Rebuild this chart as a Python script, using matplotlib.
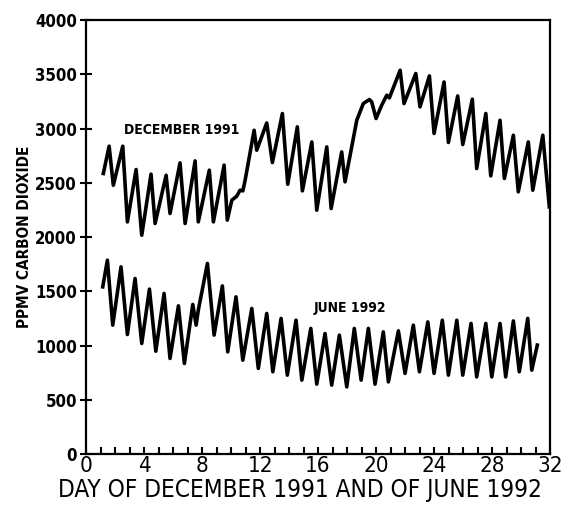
import matplotlib
matplotlib.use('Agg')
import matplotlib.pyplot as plt
from matplotlib.ticker import MultipleLocator

# December 1991: day of month (peaks/troughs), ppmv CO2
dec_day = [1.19, 1.59, 1.88, 2.53, 2.85, 3.45, 3.84, 4.48, 4.76, 5.52, 5.79,
           6.48, 6.83, 7.52, 7.74, 8.50, 8.78, 9.52, 9.74, 10.05, 10.39, 10.62,
           10.81, 10.97, 11.59, 11.77, 12.46, 12.85, 13.54, 13.91, 14.57, 14.92,
           15.57, 15.91, 16.60, 16.90, 17.63, 17.86, 18.67, 19.12, 19.54, 19.70,
           20.00, 20.39, 20.74, 20.92, 21.08, 21.66, 21.93, 22.74, 23.03, 23.68,
           24.00, 24.69, 24.99, 25.63, 25.98, 26.64, 26.94, 27.57, 27.91, 28.55,
           28.85, 29.47, 29.81, 30.50, 30.81, 31.50, 31.95]
dec_ppm = [2587, 2839, 2479, 2839, 2141, 2624, 2018, 2581, 2126, 2571, 2218,
           2685, 2126, 2703, 2141, 2618, 2141, 2664, 2157, 2341, 2378, 2433,
           2427, 2525, 2986, 2802, 3053, 2688, 3140, 2488, 3017, 2427,
           2878, 2249, 2832, 2264, 2786, 2510, 3078, 3232, 3269, 3247,
           3094, 3217, 3309, 3284, 3339, 3539, 3232, 3509, 3201, 3487,
           2956, 3431, 2873, 3302, 2854, 3272, 2633, 3140, 2565, 3078,
           2541, 2940, 2418, 2878, 2433, 2940, 2279]

# June 1992
jun_day = [1.15, 1.47, 1.84, 2.41, 2.85, 3.38, 3.84, 4.37, 4.81, 5.38, 5.79,
           6.37, 6.78, 7.36, 7.59, 7.74, 8.37, 8.83, 9.40, 9.77, 10.34, 10.81,
           11.43, 11.88, 12.46, 12.88, 13.45, 13.88, 14.48, 14.88, 15.50, 15.91,
           16.48, 16.94, 17.47, 17.98, 18.50, 18.97, 19.47, 19.93, 20.50, 20.85,
           21.54, 22.00, 22.57, 22.99, 23.57, 24.00, 24.57, 24.99, 25.57, 25.98,
           26.55, 26.94, 27.57, 27.98, 28.55, 28.94, 29.47, 29.88, 30.46, 30.74,
           31.12]
jun_ppm = [1542, 1788, 1189, 1726, 1103, 1619, 1020, 1521, 949, 1481, 882,
           1367, 836, 1380, 1189, 1327, 1758, 1097, 1551, 943, 1450, 866,
           1343, 790, 1297, 759, 1251, 728, 1235, 682, 1159, 645,
           1112, 636, 1097, 620, 1159, 682, 1159, 645, 1127, 666,
           1136, 744, 1189, 759, 1219, 744, 1235, 728, 1235, 728,
           1205, 712, 1205, 712, 1205, 712, 1228, 759, 1251, 774,
           1005]

FONT = dict(family='DejaVu Sans', stretch='condensed')

fig = plt.figure(figsize=(5.70, 5.19), dpi=100)
ax = fig.add_axes([0.151, 0.125, 0.814, 0.836])

ax.plot(dec_day, dec_ppm, color='black', lw=2.6, solid_joinstyle='round')
ax.plot(jun_day, jun_ppm, color='black', lw=2.6, solid_joinstyle='round')

ax.text(6.6, 2986, 'DECEMBER 1991', weight='bold', fontsize=10,
        ha='center', va='center', **FONT)
ax.text(18.2, 1345, 'JUNE 1992', weight='bold', fontsize=10,
        ha='center', va='center', **FONT)

ax.set_xlim(0, 32)
ax.set_ylim(0, 4000)
ax.xaxis.set_major_locator(MultipleLocator(4))
ax.xaxis.set_minor_locator(MultipleLocator(1))
ax.yaxis.set_major_locator(MultipleLocator(500))

ax.tick_params(axis='x', which='both', direction='in', length=5, width=1.5,
               pad=1)
ax.tick_params(axis='y', direction='inout', length=9, width=1.5, pad=2)
for lab in ax.get_xticklabels():
    lab.set(fontsize=16, **FONT)
for lab in ax.get_yticklabels():
    lab.set(fontsize=12, weight='bold', **FONT)

for s in ax.spines.values():
    s.set_linewidth(1.6)

ax.set_xlabel('DAY OF DECEMBER 1991 AND OF JUNE 1992', fontsize=17.5,
              labelpad=0, **FONT)
ax.xaxis.set_label_coords(0.46, -0.055)
ax.set_ylabel('PPMV CARBON DIOXIDE', fontsize=11, weight='bold',
              labelpad=2, **FONT)

fig.savefig('out.png', dpi=100)
